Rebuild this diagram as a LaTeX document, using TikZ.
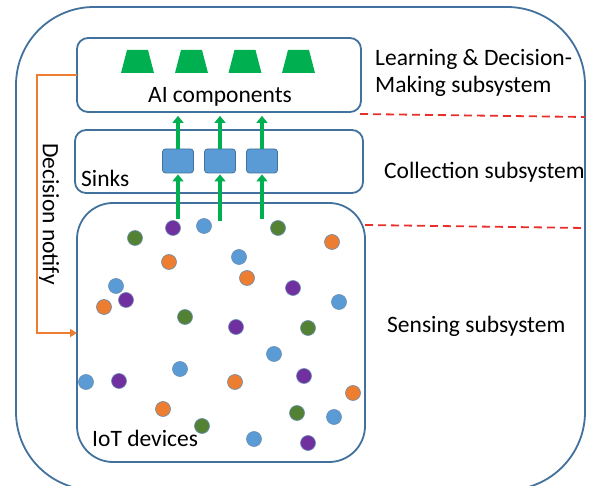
\documentclass[tikz,border=0pt]{standalone}
\usepackage{fontspec}
\setmainfont{Carlito}
\usetikzlibrary{arrows.meta}
\definecolor{boxblue}{HTML}{41719C}
\definecolor{sinkblue}{HTML}{5B9BD5}
\definecolor{aigreen}{HTML}{00B050}
\definecolor{dorange}{HTML}{ED7D31}
\definecolor{dpurple}{HTML}{7030A0}
\definecolor{dgreen}{HTML}{548235}
\definecolor{dred}{HTML}{E8302A}
\tikzset{
  box/.style={draw=boxblue, line width=1.8pt, rounded corners=11pt, inner sep=0pt},
  sinkbox/.style={draw=boxblue, fill=sinkblue, line width=0.8pt, rounded corners=3pt, minimum width=31pt, minimum height=24pt, inner sep=0pt},
  trap/.style={fill=aigreen},
  garrow/.style={draw=aigreen, line width=4pt, -{Triangle[width=11pt,length=7pt]}},
  oarrow/.style={draw=dorange, line width=1.8pt, -{Triangle[width=8pt,length=7pt]}},
  divider/.style={draw=dred, line width=1.8pt, dash pattern=on 8pt off 5pt},
  lbl/.style={font=\fontsize{23.5}{27}\selectfont, inner sep=0pt},
  dot/.style={circle, draw=boxblue!80, line width=0.6pt, minimum size=15pt, inner sep=0pt},
  bd/.style={dot, fill=sinkblue},
  od/.style={dot, fill=dorange},
  pd/.style={dot, fill=dpurple},
  gd/.style={dot, fill=dgreen},
}
\begin{document}
\begin{tikzpicture}[x=1pt, y=-1pt]
\useasboundingbox (0,0) rectangle (592,486);
% outer frame
\draw[draw=boxblue, line width=1.8pt, rounded corners=78pt] (16,7) rectangle (585,490);
% subsystem boxes
\node[box, minimum width=284pt, minimum height=74pt] (ai) at (219,75) {};
\node[box, minimum width=288pt, minimum height=63pt] (col) at (219,161.5) {};
\draw[draw=boxblue, line width=1.8pt, rounded corners=36pt] (77,203) rectangle (365,462);
\coordinate (senseW) at (77,333);
% AI trapezoids
\foreach \c in {137.5,191.5,245,298.5}{
  \fill[trap] (\c-16.5,73) -- (\c+16.5,73) -- (\c+10.5,50) -- (\c-10.5,50) -- cycle;
}
\node[lbl] (ailbl) at (220,97) {AI components};
% sinks
\node[sinkbox] (s1) at (178,161) {};
\node[sinkbox] (s2) at (220,161) {};
\node[sinkbox] (s3) at (262,161) {};
\node[lbl, anchor=west] (sinklbl) at (81,178) {Sinks};
% arrows sinks -> AI
\foreach \s in {s1,s2,s3}{
  \draw[garrow] (\s.north) -- ([yshift=-3pt]\s.north |- ai.south);
}
% arrows sensing -> sinks
\coordinate (d1) at (178,219);
\coordinate (d2) at (220,221);
\coordinate (d3) at (262,219);
\draw[garrow] (d1) -- ([yshift=-1pt]s1.south);
\draw[garrow] (d2) -- ([yshift=-1pt]s2.south);
\draw[garrow] (d3) -- ([yshift=-1pt]s3.south);
% decision notify
\coordinate (aiW) at (77,75);
\coordinate (k1) at (37,75);
\coordinate (k2) at (37,333);
\draw[oarrow] (aiW) -- (k1) -- (k2) -- (senseW);
\node[lbl, rotate=-90] (dn) at (49,214) {Decision notify};
% dividers
\coordinate (r1a) at (360,114);
\coordinate (r1b) at (585,117);
\coordinate (r2a) at (365,225);
\coordinate (r2b) at (585,228);
\draw[divider] (r1a) -- (r1b);
\draw[divider] (r2a) -- (r2b);
% right labels
\node[lbl, anchor=west, align=left] (lds) at (375,73) {Learning \& Decision-\\Making subsystem};
\node[lbl, anchor=west] (cs) at (384,172) {Collection subsystem};
\node[lbl, anchor=west] (ss) at (387,326) {Sensing subsystem};
\node[lbl, anchor=west] (iot) at (92,438) {IoT devices};
% IoT device dots
\node[gd] (p1) at (135,238) {};
\node[pd] (p2) at (173,228) {};
\node[bd] (p3) at (204,226) {};
\node[gd] (p4) at (278,228) {};
\node[od] (p5) at (169,262) {};
\node[bd] (p6) at (239,257) {};
\node[od] (p7) at (247,278) {};
\node[pd] (p8) at (293,288) {};
\node[bd] (p9) at (116,286) {};
\node[pd] (p10) at (126,300) {};
\node[od] (p11) at (104,307) {};
\node[gd] (p12) at (185,317) {};
\node[pd] (p13) at (236,327) {};
\node[bd] (p14) at (274,354) {};
\node[bd] (p15) at (180,369) {};
\node[bd] (p16) at (86,382) {};
\node[pd] (p17) at (119,381) {};
\node[od] (p18) at (235,382) {};
\node[pd] (p19) at (304,376) {};
\node[od] (p20) at (163,409) {};
\node[gd] (p21) at (202,426) {};
\node[bd] (p22) at (254,439) {};
\node[gd] (p23) at (297,413) {};
\node[od] (p24) at (332,242) {};
\node[bd] (p25) at (339,302) {};
\node[gd] (p26) at (308,328) {};
\node[od] (p27) at (353,393) {};
\node[bd] (p28) at (334,417) {};
\node[pd] (p29) at (308,443) {};
\end{tikzpicture}
\end{document}
